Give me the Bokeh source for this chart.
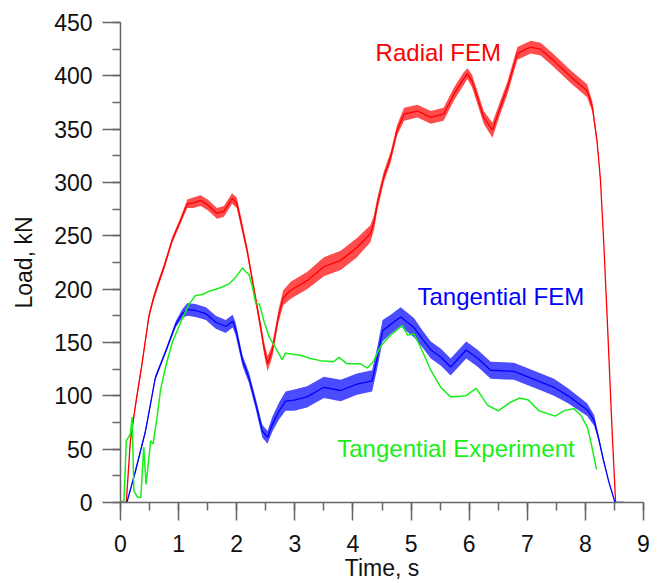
from bokeh.plotting import figure
from bokeh.models import Range1d, SingleIntervalTicker
from bokeh.core.properties import value
from bokeh.embed import file_html
from bokeh.resources import INLINE

# ---------------- data ----------------
radial_t = [0.10, 0.17, 0.26, 0.37, 0.49, 0.57, 0.66, 0.75, 0.89, 1.03,
            1.15, 1.25, 1.38, 1.50, 1.66, 1.78, 1.92, 2.00, 2.07, 2.18,
            2.29, 2.40, 2.47, 2.53, 2.61, 2.72, 2.80, 2.93, 3.21, 3.50,
            3.79, 4.07, 4.30, 4.36, 4.42, 4.53, 4.65, 4.76, 4.88, 5.11,
            5.34, 5.56, 5.74, 5.90, 5.97, 6.05, 6.14, 6.25, 6.40, 6.54,
            6.66, 6.83, 7.06, 7.23, 7.46, 7.75, 8.03, 8.12, 8.20, 8.26,
            8.32, 8.38, 8.46, 8.52]
radial_load = [0, 58, 92, 130, 175, 192, 207, 221, 246, 264,
               280, 281, 283, 279, 271, 273, 285, 281, 264, 236,
               202, 168, 145, 130, 142, 175, 192, 199, 208, 221,
               227, 239, 252, 262, 280, 305, 324, 349, 364, 367,
               361, 364, 383, 397, 402, 395, 380, 361, 349, 371,
               389, 421, 427, 425, 414, 399, 386, 371, 339, 302,
               239, 167, 67, 0]
radial_spread = [0, 2, 3, 3, 3, 3, 3, 3, 3, 3,
                 4, 5, 5, 5, 5, 5, 5, 5, 5, 4,
                 4, 5, 6, 7, 6, 6, 7, 8, 8, 9,
                 9, 9, 8, 7, 6, 5, 5, 5, 6, 6,
                 6, 6, 6, 6, 5, 6, 6, 6, 7, 6,
                 6, 6, 6, 6, 6, 6, 6, 5, 3, 2,
                 1, 1, 1, 0]

tan_t = [0.00, 0.11, 0.26, 0.43, 0.60, 0.78, 0.95, 1.06, 1.15, 1.29,
         1.47, 1.64, 1.81, 1.93, 1.98, 2.10, 2.21, 2.33, 2.44, 2.53,
         2.61, 2.73, 2.84, 2.99, 3.21, 3.50, 3.79, 4.07, 4.33, 4.42,
         4.51, 4.65, 4.82, 5.05, 5.20, 5.34, 5.52, 5.68, 5.95, 6.15,
         6.37, 6.77, 7.14, 7.46, 7.70, 8.03, 8.15, 8.22, 8.31, 8.40,
         8.51, 8.67]
tan_load = [0, 0, 30, 67, 117, 142, 167, 177, 181, 180,
            177, 169, 165, 170, 163, 133, 117, 92, 67, 61,
            73, 86, 95, 96, 99, 108, 105, 111, 114, 136,
            161, 167, 174, 164, 153, 143, 136, 127, 143, 135,
            124, 123, 115, 108, 100, 87, 77, 62, 40, 20,
            0, 0]
tan_spread = [0, 0, 2, 2, 2, 2, 3, 4, 6, 6,
              6, 6, 6, 6, 6, 5, 5, 5, 6, 6,
              7, 8, 9, 10, 10, 10, 10, 10, 10, 10,
              10, 9, 9, 9, 8, 8, 8, 8, 8, 8,
              8, 8, 8, 8, 7, 6, 5, 3, 2, 1,
              0, 0]

exp_t = [0.00, 0.06, 0.10, 0.17, 0.20, 0.23, 0.29, 0.35, 0.40, 0.44,
         0.52, 0.56, 0.63, 0.69, 0.78, 0.89, 1.06, 1.18, 1.29, 1.41,
         1.52, 1.64, 1.75, 1.87, 1.98, 2.10, 2.16, 2.21, 2.27, 2.33,
         2.39, 2.47, 2.56, 2.67, 2.78, 2.84, 3.10, 3.27, 3.44, 3.67,
         3.76, 3.90, 4.13, 4.25, 4.36, 4.48, 4.65, 4.85, 4.94, 5.05,
         5.16, 5.34, 5.51, 5.68, 5.94, 6.12, 6.32, 6.50, 6.71, 6.87,
         7.02, 7.20, 7.48, 7.63, 7.80, 7.92, 8.04, 8.12, 8.19]
exp_load = [0, 2, 58, 64, 80, 11, 5, 5, 52, 17,
            58, 55, 80, 106, 128, 150, 172, 186, 194, 195,
            198, 200, 202, 205, 211, 220, 216, 214, 202, 186,
            186, 170, 155, 145, 134, 140, 138, 135, 133, 132,
            136, 130, 130, 126, 133, 147, 157, 166, 157, 158,
            146, 124, 108, 99, 100, 107, 91, 86, 94, 98,
            96, 86, 81, 86, 88, 82, 70, 50, 31]

x_ticks_interval = 1
y_ticks_interval = 50

series_labels = ["Radial FEM", "Tangential FEM", "Tangential Experiment"]
label_pos = [(4.39, 422.0), (5.11, 193.5), (3.73, 50.5)]

RED = "#ff0000"
BLUE = "#0000ff"
GREEN = "#19ee19"
FONT = "Liberation Sans"

p = figure(width=664, height=583, output_backend="svg", toolbar_location=None,
           x_range=Range1d(0, 9), y_range=Range1d(0, 450),
           min_border_left=120, min_border_right=21, min_border_top=22,
           min_border_bottom=81)
p.outline_line_color = None
p.xgrid.visible = False
p.ygrid.visible = False
p.background_fill_color = "white"
p.border_fill_color = "white"


def band(y, s):
    return [a - b for a, b in zip(y, s)], [a + b for a, b in zip(y, s)]


lo, hi = band(radial_load, radial_spread)
p.varea(x=radial_t, y1=lo, y2=hi, fill_color=RED, fill_alpha=0.7)
p.line(radial_t, radial_load, line_color=RED, line_width=1.3)

lo, hi = band(tan_load, tan_spread)
p.varea(x=tan_t, y1=lo, y2=hi, fill_color=BLUE, fill_alpha=0.7)
p.line(tan_t, tan_load, line_color=BLUE, line_width=1.3)

p.line(exp_t, exp_load, line_color=GREEN, line_width=1.5)

for txt, (lx, ly), col in zip(series_labels, label_pos, [RED, BLUE, GREEN]):
    p.text(x=[lx], y=[ly], text=[txt], text_color=col,
           text_font=value(FONT), text_font_size="24px",
           text_align="left", text_baseline="alphabetic")

p.xaxis.ticker = SingleIntervalTicker(interval=x_ticks_interval, num_minor_ticks=2)
p.yaxis.ticker = SingleIntervalTicker(interval=y_ticks_interval, num_minor_ticks=2)

for ax in (p.xaxis[0], p.yaxis[0]):
    ax.axis_line_color = "#666666"
    ax.axis_line_width = 1.5
    ax.major_tick_line_color = "#666666"
    ax.major_tick_line_width = 1.5
    ax.minor_tick_line_color = "#666666"
    ax.minor_tick_line_width = 1.5
    ax.major_tick_out = 18
    ax.major_tick_in = 0
    ax.minor_tick_out = 8
    ax.minor_tick_in = 0
    ax.major_label_text_font = FONT
    ax.major_label_text_font_size = "23px"
    ax.major_label_text_color = "#111111"
    ax.axis_label_text_font = FONT
    ax.axis_label_text_font_size = "23px"
    ax.axis_label_text_font_style = "normal"
    ax.axis_label_text_color = "#111111"

p.xaxis.major_label_standoff = 14
p.yaxis.major_label_standoff = 10

p.yaxis.axis_label = "Load, kN"
p.yaxis.axis_label_standoff = 14
p.xaxis.axis_label = "Time, s"
p.xaxis.axis_label_standoff = 0

open("out.html", "w").write(file_html(p, INLINE))
